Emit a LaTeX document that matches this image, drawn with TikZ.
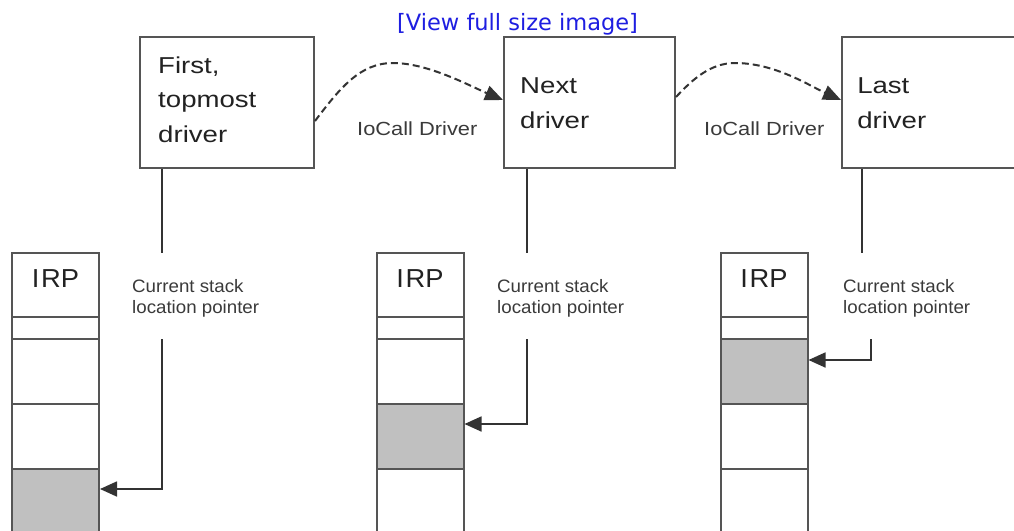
\documentclass[tikz,border=0pt]{standalone}
\usepackage{fontspec}
\setmainfont{Liberation Sans}
\newfontfamily\viewfont{DejaVu Sans}
\usetikzlibrary{arrows.meta}
\definecolor{boxc}{HTML}{555555}
\definecolor{linec}{HTML}{333333}
\definecolor{txtc}{HTML}{222222}
\definecolor{lblc}{HTML}{3A3A3A}
\definecolor{cellgray}{HTML}{C0C0C0}
\definecolor{linkblue}{RGB}{30,30,225}
\begin{document}
\begin{tikzpicture}[x=1pt,y=-1pt,
  drvbox/.style={draw=boxc, line width=2pt, fill=white, inner sep=0pt, minimum height=131pt},
  cell/.style={draw=boxc, line width=2pt, inner sep=0pt, minimum width=87pt},
  curcell/.style={cell, fill=cellgray},
  drvtext/.style={anchor=base west, inner sep=0pt, align=left, text=txtc, xscale=1.2,
    font=\fontsize{23pt}{34.5pt}\selectfont},
  calltext/.style={anchor=base west, inner sep=0pt, text=lblc, xscale=1.15,
    font=\fontsize{19pt}{22pt}\selectfont},
  ptrtext/.style={anchor=base west, inner sep=0pt, align=left, text=lblc, xscale=1.04,
    font=\fontsize{18pt}{20.5pt}\selectfont},
  irptext/.style={anchor=base, inner sep=0pt, text=txtc, xscale=1.05,
    font=\fontsize{26pt}{30pt}\selectfont},
  conn/.style={draw=linec, line width=1.7pt},
  ptr/.style={conn, -{Triangle[length=17pt,width=15pt]}},
  callarr/.style={draw=linec, line width=2pt, dash pattern=on 7pt off 4pt,
    -{Triangle[length=18pt,width=15pt]}}
]
\clip (0,0) rectangle (1014,530);
\fill[white] (0,0) rectangle (1014,530);

% link text
\node[anchor=base west, inner sep=0pt, text=linkblue, font=\viewfont\fontsize{22.5pt}{26pt}\selectfont] (link) at (397,30) {[View full size image]};

% driver boxes
\node[drvbox, minimum width=174pt] (d1) at (227,102.5) {};
\node[drvbox, minimum width=171pt] (d2) at (589.5,102.5) {};
\node[drvbox, minimum width=174pt] (d3) at (929,102.5) {};
\node[drvtext] (t1) at (158,142) {First,\\topmost\\driver};
\node[drvtext] (t2) at (520,128) {Next\\driver};
\node[drvtext] (t3) at (857,128) {Last\\driver};

% IoCall arrows
\draw[callarr] ([yshift=-18.5pt]d1.east) .. controls (340,88) and (360,63) .. (393,63)
  .. controls (428,63) and (470,86) .. ([yshift=2.5pt]d2.west);
\draw[callarr] ([yshift=5.5pt]d2.east) .. controls (692,80) and (710,63) .. (735,63)
  .. controls (775,63) and (810,86) .. ([yshift=2.5pt]d3.west);
\node[calltext] (c1) at (357,135) {IoCall Driver};
\node[calltext] (c2) at (704,135) {IoCall Driver};

% lines down from drivers
\coordinate (e1) at (162,253);
\coordinate (e2) at (527,253);
\coordinate (e3) at (862,253);
\draw[conn] (e1 |- d1.south) -- (e1);
\draw[conn] (e2 |- d2.south) -- (e2);
\draw[conn] (e3 |- d3.south) -- (e3);

% stacks: cells y 253-317, 317-339, 339-403.5, 403.5-469, 469-545
\foreach \s/\cx in {1/55.5, 2/420, 3/764}{
  \node[cell, minimum height=64pt] (s\s a) at (\cx,285) {};
  \node[cell, minimum height=22pt] (s\s b) at (\cx,328) {};
}
\node[cell, minimum height=64.5pt] (s1c) at (55.5,371.25) {};
\node[cell, minimum height=65.5pt] (s1d) at (55.5,436.25) {};
\node[curcell, minimum height=76pt] (s1e) at (55.5,507) {};
\node[cell, minimum height=64.5pt] (s2c) at (420,371.25) {};
\node[curcell, minimum height=65.5pt] (s2d) at (420,436.25) {};
\node[cell, minimum height=76pt] (s2e) at (420,507) {};
\node[curcell, minimum height=64.5pt] (s3c) at (764,371.25) {};
\node[cell, minimum height=65.5pt] (s3d) at (764,436.25) {};
\node[cell, minimum height=76pt] (s3e) at (764,507) {};

\node[irptext] (i1) at (55.5,287) {I\kern1.5ptRP};
\node[irptext] (i2) at (420,287) {I\kern1.5ptRP};
\node[irptext] (i3) at (764,287) {I\kern1.5ptRP};

% labels
\node[ptrtext] (p1) at (132,313) {Current stack\\location pointer};
\node[ptrtext] (p2) at (497,313) {Current stack\\location pointer};
\node[ptrtext] (p3) at (843,313) {Current stack\\location pointer};

% pointer arrows
\coordinate (q1) at (162,339);  \coordinate (k1) at (162,489);
\coordinate (q2) at (527,339);  \coordinate (k2) at (527,424);
\coordinate (q3) at (871,339);  \coordinate (k3) at (871,360);
\draw[ptr] (q1) -- (k1) -- (k1 -| s1e.east);
\draw[ptr] (q2) -- (k2) -- (k2 -| s2d.east);
\draw[ptr] (q3) -- (k3) -- (k3 -| s3c.east);
\end{tikzpicture}
\end{document}
